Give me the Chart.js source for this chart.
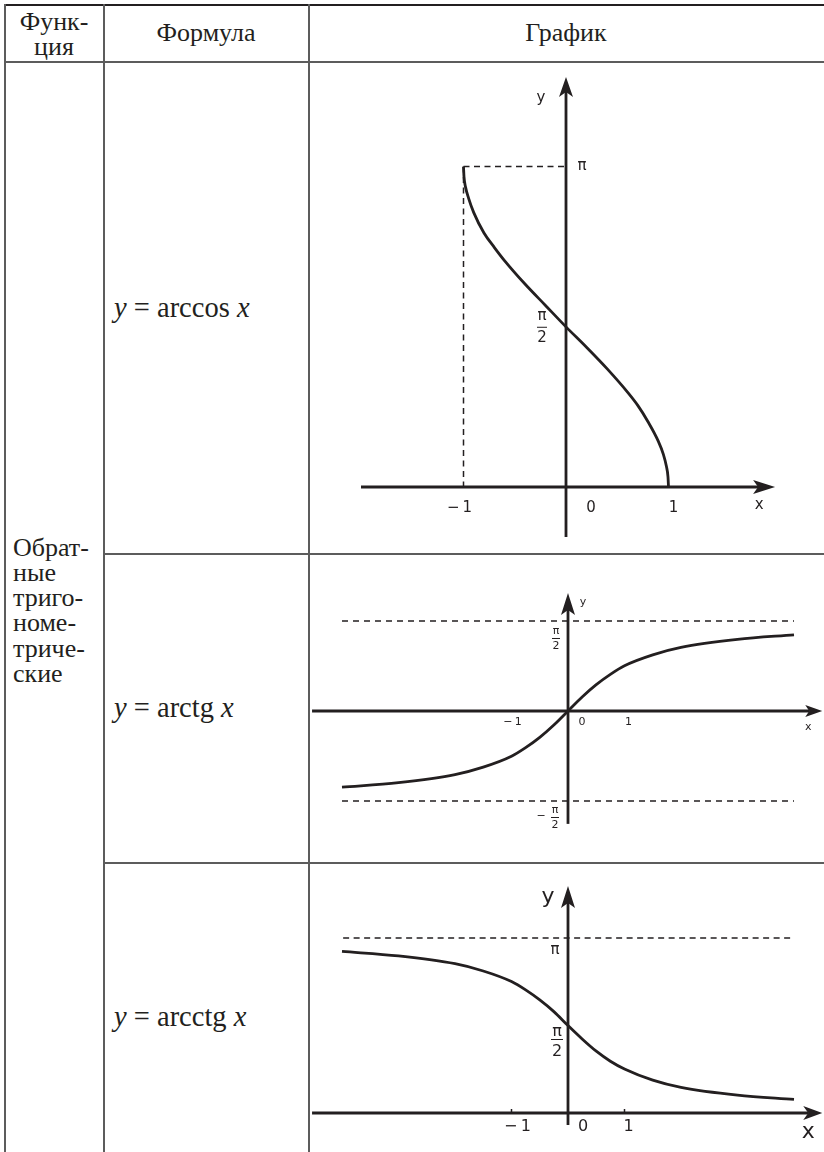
<!DOCTYPE html>
<html><head><meta charset="utf-8">
<script src="https://cdn.jsdelivr.net/npm/chart.js@4"></script>
<style>
html,body{margin:0;padding:0;background:#fff}
#page{position:relative;width:824px;height:1152px;overflow:hidden;background:#fff;color:#231f20;font-family:"Liberation Serif","Times New Roman",serif}
.ln{position:absolute;background:#5c5c5c}
.t{position:absolute;white-space:nowrap;font-size:26px;line-height:normal}
.c{text-align:center}
canvas{position:absolute}
i{font-style:italic}
</style></head><body>
<div id="page">
<div class="ln" style="left:4px;top:4px;width:820px;height:2px;background:#231f20"></div>
<div class="ln" style="left:4px;top:61px;width:820px;height:2px"></div>
<div class="ln" style="left:4px;top:4px;width:2px;height:1148px"></div>
<div class="ln" style="left:103px;top:4px;width:2px;height:1148px"></div>
<div class="ln" style="left:308px;top:4px;width:2px;height:1148px"></div>
<div class="ln" style="left:103px;top:553px;width:721px;height:2px"></div>
<div class="ln" style="left:103px;top:862px;width:721px;height:2px"></div>
<canvas id="g1" width="514" height="490" style="left:310px;top:63px;width:514px;height:490px"></canvas>
<canvas id="g2" width="514" height="307" style="left:310px;top:555px;width:514px;height:307px"></canvas>
<canvas id="g3" width="514" height="288" style="left:310px;top:864px;width:514px;height:288px"></canvas>
</div>
<script>
// ---------- data ----------
const HEADER = ['Функ-\nция', 'Формула', 'График'];
const GROUP = ['Обрат-', 'ные', 'триго-', 'номе-', 'триче-', 'ские'];
const FORMULA_NAMES = ['arccos', 'arctg', 'arcctg'];

const ACOS_X = [-1, -0.995, -0.98, -0.95, -0.9, -0.8, -0.7, -0.6, -0.4, -0.2, 0, 0.2, 0.4, 0.6, 0.7, 0.8, 0.9, 0.95, 0.98, 0.995, 1];
const ACOS_Y = [3.14, 3.04, 2.94, 2.83, 2.69, 2.49, 2.35, 2.22, 1.99, 1.78, 1.57, 1.37, 1.16, 0.93, 0.80, 0.64, 0.45, 0.32, 0.20, 0.10, 0];

const ATAN_X = [-4, -3, -2, -1.5, -1, -0.75, -0.5, -0.25, 0, 0.25, 0.5, 0.75, 1, 1.5, 2, 3, 4];
const ATAN_Y = [-1.33, -1.25, -1.11, -0.98, -0.79, -0.64, -0.46, -0.245, 0, 0.245, 0.46, 0.64, 0.79, 0.98, 1.11, 1.25, 1.33];

const ACOT_X = [-4, -3, -2, -1.5, -1, -0.75, -0.5, -0.25, 0, 0.25, 0.5, 0.75, 1, 1.5, 2, 3, 4];
const ACOT_Y = [2.90, 2.82, 2.68, 2.55, 2.36, 2.21, 2.03, 1.82, 1.57, 1.33, 1.11, 0.93, 0.79, 0.59, 0.46, 0.32, 0.245];

const PI_V = 3.1416, HALF_PI = 1.5708;
const TICK_VALUES = [-1, 0, 1];
const TICK_LABELS = ['\u2212\u20091', '0', '1'];

const INK = '#231f20';

// ---------- table text ----------
const page = document.getElementById('page');
const F = 26, ASC = 0.891;
function txt(html, x, base, opt = {}) {
  const d = document.createElement('div');
  d.className = 't' + (opt.center ? ' c' : '');
  d.style.fontSize = (opt.size || F) + 'px';
  d.style.top = (base - ASC * (opt.size || F)) + 'px';
  if (opt.center) { d.style.left = (x - 150) + 'px'; d.style.width = '300px'; }
  else d.style.left = x + 'px';
  d.innerHTML = html;
  page.appendChild(d);
}
const h0 = HEADER[0].split('\n');
txt(h0[0], 54, 30, {center: true});
txt(h0[1], 54, 55, {center: true});
txt(HEADER[1], 206, 41, {center: true});
txt(HEADER[2], 566, 41, {center: true});
GROUP.forEach((w, i) => txt(w, 13, 556 + i * 25.2));
const FORM_BASE = [317, 717, 1026];
FORMULA_NAMES.forEach((n, i) => txt('<i>y</i> = ' + n + ' <i>x</i>', 114, FORM_BASE[i], {size: 28.5}));

// ---------- charts ----------
function arrow(ctx, tx, ty, dir, a) {
  const [L, W, N] = a;
  ctx.beginPath();
  if (dir === 'right') {
    ctx.moveTo(tx, ty); ctx.lineTo(tx - L, ty - W); ctx.lineTo(tx - L + N, ty); ctx.lineTo(tx - L, ty + W);
  } else {
    ctx.moveTo(tx, ty); ctx.lineTo(tx - W, ty + L); ctx.lineTo(tx, ty + L - N); ctx.lineTo(tx + W, ty + L);
  }
  ctx.closePath(); ctx.fill();
}

function mkChart(cfg) {
  const [bl, bt, bw, bh] = cfg.box;
  const xmin = (bl - cfg.ox) / cfg.ux, xmax = (bl + bw - cfg.ox) / cfg.ux;
  const ymax = (cfg.oy - bt) / cfg.uy, ymin = (cfg.oy - bt - bh) / cfg.uy;
  const pts = (xs, ys) => xs.map((x, i) => ({x, y: ys[i]}));
  const xEnd = cfg.xTip - (cfg.xArrow[0] - cfg.xArrow[2]) / cfg.ux;
  const yEnd = cfg.yTip - (cfg.yArrow[0] - cfg.yArrow[2]) / cfg.uy;
  const datasets = [
    {data: [{x: cfg.xStart, y: 0}, {x: xEnd, y: 0}], borderWidth: cfg.axisW},
    {data: [{x: 0, y: cfg.yStart}, {x: 0, y: yEnd}], borderWidth: cfg.axisW},
    ...cfg.dashes.map(d => ({data: pts(d[0], d[1]), borderWidth: 1.5, borderDash: cfg.dash})),
    {data: pts(cfg.cx, cfg.cy), borderWidth: cfg.curveW, cubicInterpolationMode: 'monotone'}
  ];
  datasets.forEach(d => { d.borderColor = INK; d.pointRadius = 0; d.showLine = true; d.fill = false; d.borderCapStyle = 'butt'; });
  const decor = {
    id: 'decor_' + cfg.id,
    afterDatasetsDraw(chart) {
      const ctx = chart.ctx, xs = chart.scales.x, ys = chart.scales.y;
      const px = v => xs.getPixelForValue(v), py = v => ys.getPixelForValue(v);
      ctx.save();
      ctx.fillStyle = INK; ctx.strokeStyle = INK;
      arrow(ctx, px(cfg.xTip), py(0), 'right', cfg.xArrow);
      arrow(ctx, px(0), py(cfg.yTip), 'up', cfg.yArrow);
      if (cfg.tickLen) {
        ctx.lineWidth = 1.5;
        [-1, 1].forEach(v => { ctx.beginPath(); ctx.moveTo(px(v), py(0)); ctx.lineTo(px(v), py(0) - cfg.tickLen); ctx.stroke(); });
      }
      ctx.textAlign = 'center'; ctx.textBaseline = 'middle';
      cfg.labels.forEach(l => {
        ctx.font = l.size + 'px "DejaVu Sans"';
        ctx.fillText(l.t, px(l.x) + l.dx, py(l.y) + l.dy);
      });
      cfg.fracs.forEach(f => {
        const cx = px(f.x) + f.dx, by = py(f.y) + f.dy;
        ctx.font = f.size + 'px "DejaVu Sans"';
        ctx.textBaseline = 'alphabetic';
        ctx.fillText('π', cx, by - f.piGap);
        ctx.textBaseline = 'top';
        ctx.fillText('2', cx, by + f.twoGap);
        ctx.lineWidth = 1;
        ctx.beginPath(); ctx.moveTo(cx - f.barW / 2, by + 0.5); ctx.lineTo(cx + f.barW / 2, by + 0.5); ctx.stroke();
        if (f.minus) {
          ctx.textBaseline = 'middle';
          ctx.fillText('\u2212', cx - f.minus, by - 1);
        }
      });
      ctx.restore();
    }
  };
  new Chart(document.getElementById(cfg.id), {
    type: 'scatter',
    data: {datasets},
    options: {
      responsive: false, animation: false, devicePixelRatio: 1, events: [],
      layout: {padding: 0},
      plugins: {legend: {display: false}, tooltip: {enabled: false}},
      scales: {x: {type: 'linear', display: false, min: xmin, max: xmax},
               y: {type: 'linear', display: false, min: ymin, max: ymax}}
    },
    plugins: [decor]
  });
}

function tickLabels(size, offs, dy) {
  return TICK_VALUES.map((v, i) => ({t: TICK_LABELS[i], x: v, y: 0, dx: offs[i], dy, size}));
}

mkChart({
  id: 'g1', box: [310, 63, 514, 490], ox: 566, oy: 487, ux: 102.5, uy: 102,
  cx: ACOS_X, cy: ACOS_Y, curveW: 2.8, axisW: 2.8, dash: [6, 4.5],
  xStart: -2.0, xTip: 2.04, yStart: -0.49, yTip: 4.02,
  xArrow: [22, 7, 5], yArrow: [20, 7, 5],
  dashes: [[[-1, 0], [PI_V, PI_V]], [[-1, -1], [PI_V, 0]]],
  labels: [
    ...tickLabels(15, [-4, 25, 5], 21),
    {t: 'x', x: 2.04, y: 0, dx: -16, dy: 18, size: 15},
    {t: 'y', x: 0, y: 4.02, dx: -25, dy: 21, size: 15},
    {t: 'π', x: 0, y: PI_V, dx: 16, dy: 0, size: 15}
  ],
  fracs: [{x: 0, y: HALF_PI, dx: -24, dy: 0, size: 15, piGap: 7, twoGap: 4, barW: 10}]
});

mkChart({
  id: 'g2', box: [310, 555, 514, 307], ox: 568, oy: 711, ux: 56.5, uy: 57.3,
  cx: ATAN_X, cy: ATAN_Y, curveW: 2.8, axisW: 2.8, dash: [6, 5],
  xStart: -4.53, xTip: 4.5, yStart: -1.97, yTip: 2.06,
  xArrow: [17, 6, 4], yArrow: [22, 7, 5],
  dashes: [[[-4, 4], [HALF_PI, HALF_PI]], [[-4, 4], [-HALF_PI, -HALF_PI]]],
  labels: [
    ...tickLabels(11, [1, 14, 4], 11),
    {t: 'x', x: 4.5, y: 0, dx: -14, dy: 16, size: 11},
    {t: 'y', x: 0, y: 2.06, dx: 15, dy: 9, size: 11}
  ],
  fracs: [
    {x: 0, y: HALF_PI, dx: -12, dy: 17, size: 11, piGap: 4, twoGap: 3, barW: 8},
    {x: 0, y: -HALF_PI, dx: -13, dy: 16, size: 11, piGap: 4, twoGap: 3, barW: 8, minus: 14}
  ]
});

mkChart({
  id: 'g3', box: [310, 864, 514, 288], ox: 568, oy: 1113, ux: 56.5, uy: 55.7,
  cx: ACOT_X, cy: ACOT_Y, curveW: 2.8, axisW: 2.8, dash: [6, 4.5],
  xStart: -4.53, xTip: 4.5, yStart: -0.215, yTip: 4.075, tickLen: 4,
  xArrow: [19, 7, 5], yArrow: [22, 7, 5],
  dashes: [[[-3.98, 3.96], [PI_V, PI_V]]],
  labels: [
    ...tickLabels(16, [6, 15, 4], 14),
    {t: 'x', x: 4.5, y: 0, dx: -14, dy: 19, size: 22},
    {t: 'y', x: 0, y: 4.075, dx: -20, dy: 11, size: 22},
    {t: 'π', x: 0, y: PI_V, dx: -13, dy: 12, size: 15}
  ],
  fracs: [{x: 0, y: HALF_PI, dx: -11, dy: 13.5, size: 16, piGap: 3, twoGap: 5, barW: 12}]
});
</script>
</body></html>
